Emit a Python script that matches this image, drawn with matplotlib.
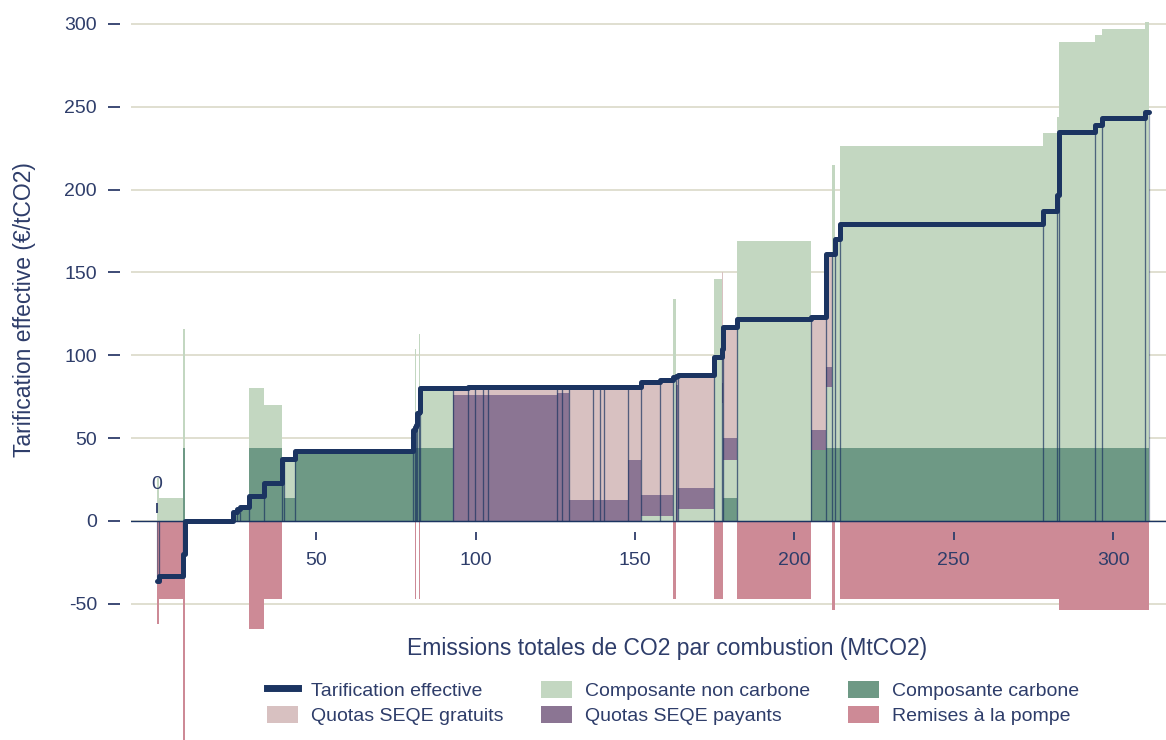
import numpy as np
import matplotlib
matplotlib.use("Agg")
import matplotlib.pyplot as plt
from matplotlib.patches import Patch
from matplotlib.lines import Line2D

plt.rcParams['font.family'] = ['Liberation Sans', 'DejaVu Sans']
plt.rcParams['axes.unicode_minus'] = False

# ---- Data: emission segments (MtCO2), sorted by effective price ----
largeurs = [0.6, 7.4, 0.6, 15.3, 1.1, 1.0, 2.7, 4.7, 5.7, 0.6,
            3.6, 36.9, 0.7, 0.3, 0.4, 0.7, 0.3, 10.4, 4.7, 2.1,
            2.5, 1.6, 21.5, 1.6, 2.1, 7.6, 2.3, 1.3, 7.6, 4.0,
            5.9, 4.0, 0.9, 0.7, 11.2, 2.6, 0.5, 4.2, 23.2, 4.9,
            1.8, 0.8, 1.7, 63.8, 4.4, 0.6, 11.2, 2.1, 13.6, 1.3]

carbone = [0, 0, 44, 0, 5.5, 7.5, 8.6, 44, 44, 37.4,
           14, 42, 44, 44, 44, 44, 44, 44, 0, 0,
           0, 0, 0, 0, 0, 0, 0, 0, 0, 0,
           0, 0, 0, 0, 0, 0, 0, 14, 0, 43,
           44, 44, 44, 44, 44, 44, 44, 44, 44, 44]

non_carbone = [26, 14, 72, 0, 0, 0, 0, 36, 26, 0,
               23.4, 0, 11, 60, 14, 21, 69, 36, 0, 0,
               0, 0, 0, 0, 0, 0, 0, 0, 0, 0,
               3, 3, 134, 0, 7, 146, 71, 23, 169, 0,
               37, 171, 126, 182, 190, 200, 245, 249, 253, 257]

quotas_payants = [0, 0, 0, 0, 0, 0, 0, 0, 0, 0,
                  0, 0, 0, 0, 0, 0, 0, 0, 76, 76,
                  76, 76, 76, 77, 77, 12.7, 12.7, 12.7, 12.7, 36.6,
                  12.7, 12.7, 0, 82, 13, 0, 12, 13, 0, 12,
                  12, 0, 0, 0, 0, 0, 0, 0, 0, 0]

quotas_gratuits = [0, 0, 0, 0, 0, 0, 0, 0, 0, 0,
                   0, 0, 0, 0, 0, 0, 0, 0, 4.5, 4.6,
                   4.7, 4.8, 4.9, 4.0, 4.0, 68.3, 68.3, 68.3, 68.4, 44.5,
                   68.3, 69.3, 0, 5.5, 68, 0, 67.5, 67, 0, 68,
                   68, 0, 0, 0, 0, 0, 0, 0, 0, 0]

remises = [-62, -47, -136, 0, 0, 0, 0, -65, -47, 0,
           0, 0, 0, -47, 0, 0, -47, 0, 0, 0,
           0, 0, 0, 0, 0, 0, 0, 0, 0, 0,
           0, 0, -47, 0, 0, -47, -47, 0, -47, 0,
           0, -54, 0, -47, -47, -47, -54, -54, -54, -54]

y_ticks = [-50, 0, 50, 100, 150, 200, 250, 300]
x_ticks = [50, 100, 150, 200, 250, 300]

labels = {
    'tarif': 'Tarification effective',
    'nc': 'Composante non carbone',
    'c': 'Composante carbone',
    'gr': 'Quotas SEQE gratuits',
    'pay': 'Quotas SEQE payants',
    'rem': 'Remises à la pompe',
}

# ---- Colours ----
c_light = '#c3d7c1'
c_dark = '#6e9985'
c_pink = '#d8c1c1'
c_purple = '#8b7593'
c_red = '#cd8a96'
navy = '#1b3461'
textc = '#2e3d6a'
gridc = '#dddccd'

w = np.array(largeurs)
starts = np.concatenate([[0], np.cumsum(w)[:-1]])
c = np.array(carbone)
nc = np.array(non_carbone)
pay = np.array(quotas_payants)
gr = np.array(quotas_gratuits)
rem = np.array(remises)
tarif = c + nc + pay + gr + rem

fig = plt.figure(figsize=(11.66, 7.40), dpi=100)
L = 131 / 1166
B = (740 - 623.7) / 740
H = (623.7 - 4) / 740
ax = fig.add_axes([L, B, 1 - L, H])
ax.set_xlim(-8.2, 316.6)
ax.set_ylim(-62, 312)

# grid
ax.set_yticks(y_ticks)
ax.yaxis.grid(True, color=gridc, lw=1.3)
ax.set_axisbelow(True)
for s in ax.spines.values():
    s.set_visible(False)
ax.spines['left'].set_position(('outward', 8))
ax.tick_params(axis='y', length=9, width=1.3, pad=7.5, colors=textc, labelsize=14)
ax.tick_params(axis='x', bottom=False, labelbottom=False)

kw = dict(width=w, align='edge', linewidth=0, clip_on=False)
ax.bar(starts, c, color=c_dark, zorder=2, **kw)
ax.bar(starts, nc, bottom=c, color=c_light, zorder=2, **kw)
ax.bar(starts, pay, bottom=c + nc, color=c_purple, zorder=2, **kw)
ax.bar(starts, gr, bottom=c + nc + pay, color=c_pink, zorder=2, **kw)
ax.bar(starts, rem, color=c_red, zorder=2, **kw)

# outlines of effective-price segments
ax.bar(starts, tarif, width=w, align='edge', fill=False, edgecolor=navy,
       linewidth=0.9, alpha=0.45, zorder=3)

ax.axhline(0, color=navy, lw=1.0, zorder=4)

xs = np.append(starts, starts[-1] + w[-1])
ys = np.append(tarif, tarif[-1])
ax.plot(xs, ys, drawstyle='steps-post', color=navy, lw=3.6, zorder=6,
        solid_capstyle='round')

# x axis ticks (floating, drawn above the bars)
sec = ax.secondary_xaxis(-6.6, transform=ax.transData)
sec.set_xticks(x_ticks)
sec.tick_params(length=6, width=1.3, pad=8.5, colors=textc, labelsize=14)
for s in sec.spines.values():
    s.set_visible(False)
sec.set_zorder(10)

sec0 = ax.secondary_xaxis(4.8, transform=ax.transData)
sec0.set_xticks([0])
sec0.tick_params(length=7, width=1.3, pad=7.5, colors=textc, labelsize=14)
for s in sec0.spines.values():
    s.set_visible(False)
sec0.set_zorder(10)

fig.text(25 / 1166, 1 - 310 / 740, 'Tarification effective (€/tCO2)', rotation=90,
         ha='center', va='center', fontsize=16.5, color=textc)
fig.text(667.5 / 1166, 1 - 648 / 740, 'Emissions totales de CO2 par combustion (MtCO2)',
         ha='center', va='center', fontsize=16.5, color=textc)

handles = [
    Line2D([0], [0], color=navy, lw=5),
    Patch(facecolor=c_pink, edgecolor='none'),
    Patch(facecolor=c_light, edgecolor='none'),
    Patch(facecolor=c_purple, edgecolor='none'),
    Patch(facecolor=c_dark, edgecolor='none'),
    Patch(facecolor=c_red, edgecolor='none'),
]
labs = [labels['tarif'], labels['gr'], labels['nc'], labels['pay'], labels['c'], labels['rem']]
fig.legend(handles, labs, ncol=3, loc='center', bbox_to_anchor=(673 / 1166, 1 - 703 / 740),
           frameon=False, fontsize=14, handlelength=1.6, handleheight=1.0,
           handletextpad=0.7, columnspacing=1.9, labelspacing=0.3, labelcolor=textc)

fig.savefig('out.png', dpi=100)
